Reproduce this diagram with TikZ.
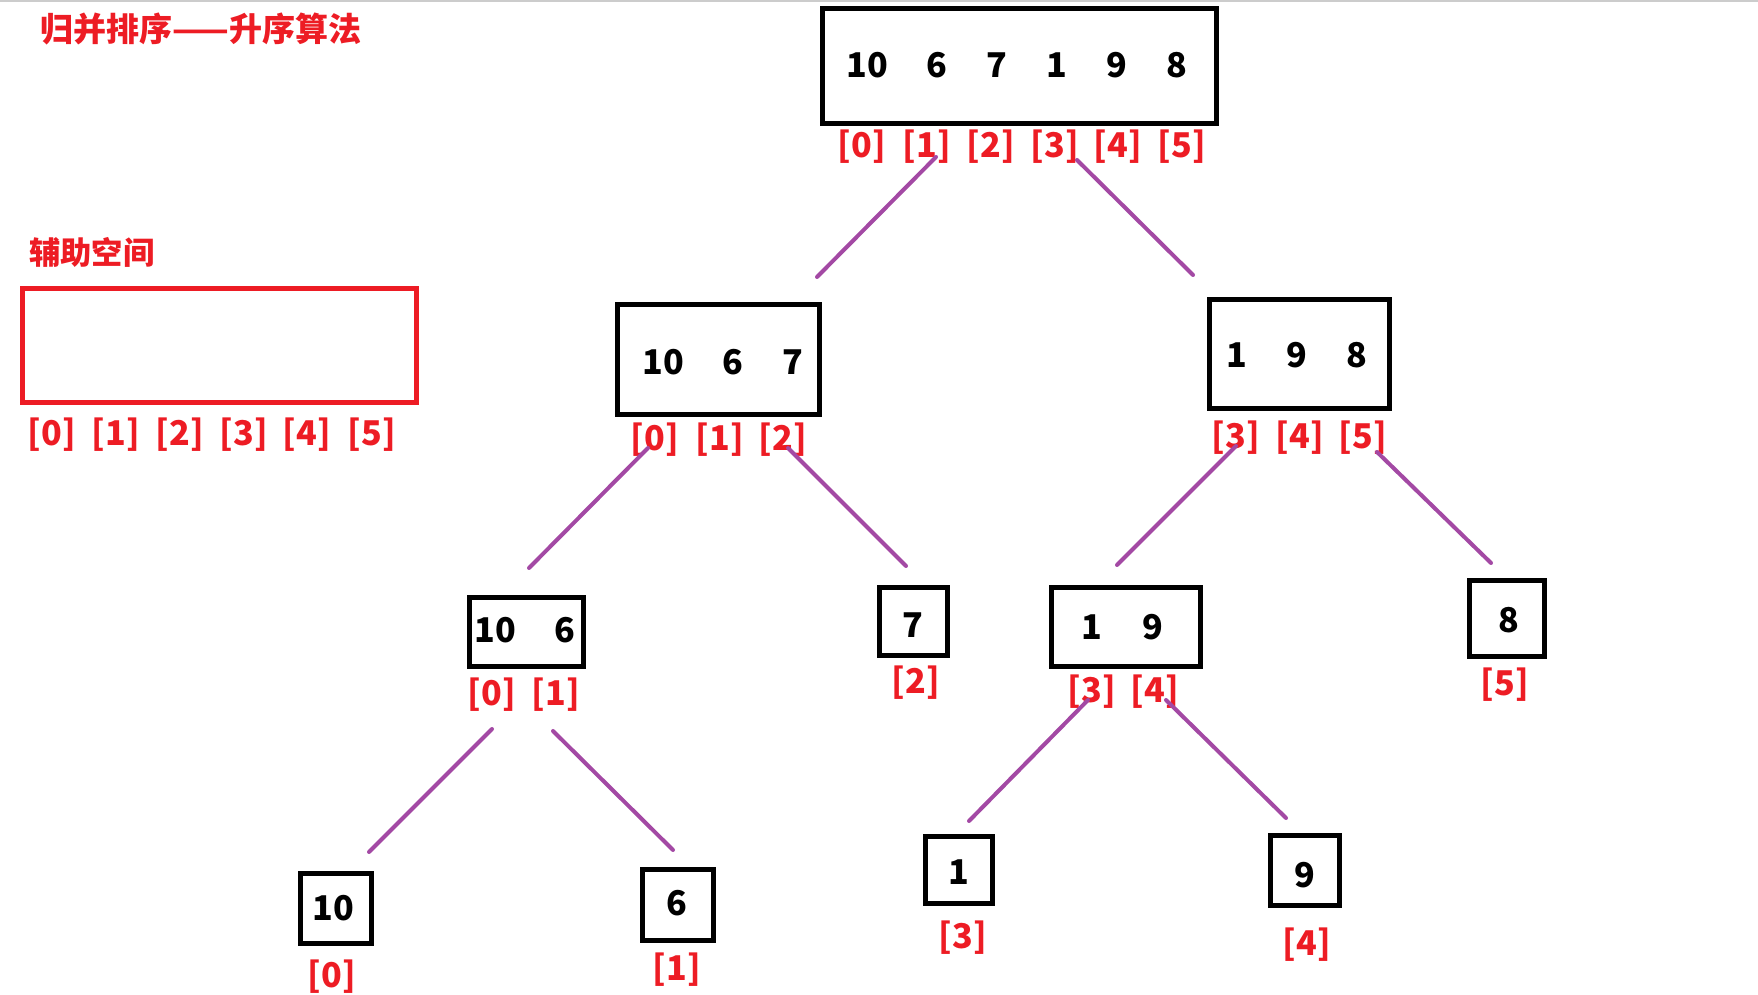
\documentclass[tikz,border=0pt]{standalone}
\usepackage{fontspec}
\setmainfont{Noto Sans CJK SC}
\usepackage{tikz}
\definecolor{paintred}{RGB}{237,28,36}
\definecolor{paintpurple}{RGB}{163,73,164}

\begin{document}
\begin{tikzpicture}[
    x=0.01cm, y=-0.01cm,
    box/.style={rectangle, draw=#1, line width=0.05cm, inner sep=0pt},
    box/.default=black,
    num/.style={inner sep=0pt, font=\fontsize{9.7pt}{11pt}\selectfont\bfseries},
    idx/.style={inner sep=0pt, text=paintred, font=\fontsize{9.7pt}{11pt}\selectfont\bfseries},
    link/.style={paintpurple, line width=0.04cm, line cap=round}
]
    \useasboundingbox (0,0) rectangle (1758,995);
    \draw[black!20, line width=0.02cm] (0,1) -- (1758,1);

    % Titles
    \node[text=paintred, font=\fontsize{9.4pt}{11pt}\selectfont\bfseries] (title) at (201,29) {归并排序——升序算法};
    \node[text=paintred, font=\fontsize{8.9pt}{11pt}\selectfont\bfseries] (auxlabel) at (92,252) {辅助空间};

    % Auxiliary array
    \node[box=paintred, minimum width=3.93cm, minimum height=1.13cm] (aux) at (219.5,345.5) {};
    \foreach \i/\x in {0/52,1/116,2/180,3/244,4/307,5/372}
        \node[idx] (a\i) at (\x,435) {[\i]};

    % Boxes
    \node[box, minimum width=3.93cm, minimum height=1.14cm] (top) at (1019.5,66) {};
    \node[box, minimum width=2.01cm, minimum height=1.09cm] (left) at (718.5,359.5) {};
    \node[box, minimum width=1.79cm, minimum height=1.08cm] (right) at (1299.5,354) {};
    \node[box, minimum width=1.13cm, minimum height=0.68cm] (ll) at (526.5,632) {};
    \node[box, minimum width=0.67cm, minimum height=0.67cm] (lr) at (913.5,621.5) {};
    \node[box, minimum width=1.48cm, minimum height=0.78cm] (rl) at (1126,627) {};
    \node[box, minimum width=0.75cm, minimum height=0.75cm] (rr) at (1506.5,618.5) {};
    \node[box, minimum width=0.70cm, minimum height=0.69cm] (lll) at (336,908.5) {};
    \node[box, minimum width=0.70cm, minimum height=0.70cm] (llr) at (678,905) {};
    \node[box, minimum width=0.66cm, minimum height=0.66cm] (rll) at (959,870) {};
    \node[box, minimum width=0.69cm, minimum height=0.69cm] (rlr) at (1304.5,870.5) {};

    % Values
    \foreach \v/\x [count=\k] in {10/867,6/937,7/997,1/1057,9/1117,8/1177}
        \node[num] (tv\k) at (\x,65) {\v};
    \foreach \v/\x [count=\k] in {10/663,6/733,7/793}
        \node[num] (lv\k) at (\x,362) {\v};
    \foreach \v/\x [count=\k] in {1/1237,9/1297,8/1357}
        \node[num] (rv\k) at (\x,355) {\v};
    \foreach \v/\x [count=\k] in {10/495,6/565}
        \node[num] (llv\k) at (\x,630) {\v};
    \foreach \v/\x [count=\k] in {1/1092,9/1153}
        \node[num] (rlv\k) at (\x,627) {\v};
    \node[num] (lrv) at (913,625) {7};
    \node[num] (rrv) at (1509,620) {8};
    \node[num] (lllv) at (333,908) {10};
    \node[num] (llrv) at (677,903) {6};
    \node[num] (rllv) at (959,872) {1};
    \node[num] (rlrv) at (1305,875) {9};

    % Indices
    \foreach \i/\x in {0/862,1/927,2/991,3/1055,4/1118,5/1182}
        \node[idx] (t\i) at (\x,147) {[\i]};
    \foreach \i/\x in {0/655,1/720,2/783}
        \node[idx] (l\i) at (\x,440) {[\i]};
    \foreach \i/\x in {3/1236,4/1300,5/1363}
        \node[idx] (r\i) at (\x,438) {[\i]};
    \foreach \i/\x in {0/492,1/556}
        \node[idx] (ll\i) at (\x,695) {[\i]};
    \foreach \i/\x in {3/1092,4/1155}
        \node[idx] (rl\i) at (\x,692) {[\i]};
    \node[idx] (lr2) at (916,683) {[2]};
    \node[idx] (rr5) at (1505,685) {[5]};
    \node[idx] (lll0) at (332,977) {[0]};
    \node[idx] (llr1) at (677,970) {[1]};
    \node[idx] (rll3) at (963,938) {[3]};
    \node[idx] (rlr4) at (1307,945) {[4]};

    % Splits
    \foreach \n/\xa/\ya/\xb/\yb in {1/936/157/817/277, 2/1077/160/1193/275,
        3/648/448/529/568, 4/788/448/906/566, 5/1236/446/1117/565, 6/1377/452/1491/563,
        7/492/729/369/852, 8/553/731/673/850, 9/1088/700/969/821, 10/1166/700/1286/818} {
        \coordinate (s\n) at (\xa,\ya);
        \coordinate (e\n) at (\xb,\yb);
        \draw[link] (s\n) -- (e\n);
    }
\end{tikzpicture}
\end{document}
